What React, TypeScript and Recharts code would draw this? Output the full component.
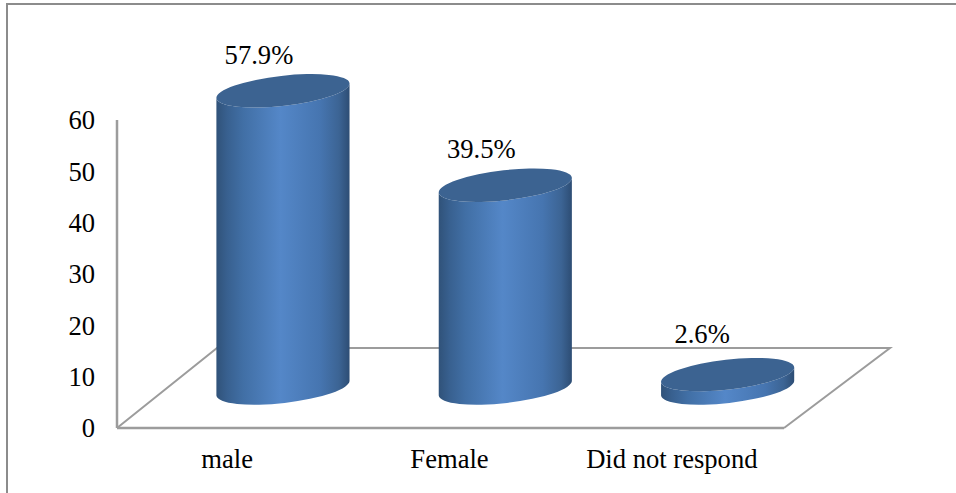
import { BarChart, Bar, XAxis, YAxis, LabelList, Customized } from "recharts"

const categories = ["male", "Female", "Did not respond"]
const percentValues = [57.9, 39.5, 2.6]
const yTicks = [0, 10, 20, 30, 40, 50, 60]

const data = categories.map((name, i) => ({ name, value: percentValues[i] }))

const WIDTH = 956
const HEIGHT = 493
const PLOT = { top: 120, right: 172, bottom: 65, left: 117 }
const FONT = "'Liberation Serif', 'Times New Roman', serif"
const FONT_SIZE = 26.6
const GREY = "#9c9c9c"

// fake 3D: bars sit halfway back on the floor
const BAR_DX = 55
const BAR_DY = -40
const FLOOR_DX = 106
const FLOOR_DY = -80
const TILT = -6.5
const RY = 15

function Floor() {
  const left = PLOT.left
  const right = WIDTH - PLOT.right
  const base = HEIGHT - PLOT.bottom
  const points = [
    [left, base],
    [left + 100, base + FLOOR_DY],
    [right + FLOOR_DX, base + FLOOR_DY],
    [right, base],
  ]
  return (
    <polyline
      points={points.map((p) => p.join(",")).join(" ")}
      fill="none"
      stroke={GREY}
      strokeWidth={2}
    />
  )
}

function Cylinder(props: any) {
  const { x, y, width, height } = props
  const rx = width / 2 + 0.5
  const cx = x + width / 2 + BAR_DX
  const top = y + BAR_DY
  const bottom = y + height + BAR_DY
  const rad = (TILT * Math.PI) / 180
  // extreme left/right points of the tilted ellipse
  const ex = rx * Math.cos(rad)
  const ey = rx * Math.sin(rad)
  const side = [
    `M${cx - ex},${top - ey}`,
    `L${cx - ex},${bottom - ey}`,
    `A${rx},${RY} ${TILT} 0 0 ${cx + ex},${bottom + ey}`,
    `L${cx + ex},${top + ey}`,
    `A${rx},${RY} ${TILT} 0 1 ${cx - ex},${top - ey}`,
    "Z",
  ].join(" ")
  return (
    <g>
      <path d={side} fill="url(#cylSide)" />
      <ellipse
        cx={cx}
        cy={top}
        rx={rx}
        ry={RY}
        fill="#3c6391"
        transform={`rotate(${TILT} ${cx} ${top})`}
      />
    </g>
  )
}

function ValueLabel(props: any) {
  const { x, y, width, value, index } = props
  const lift = index === 2 ? 41 : 36
  const nudge = index === 2 ? 29.5 : 31
  return (
    <text
      x={x + width / 2 + nudge}
      y={y + BAR_DY - lift}
      textAnchor="middle"
      dominantBaseline="central"
      fontFamily={FONT}
      fontSize={FONT_SIZE}
      fill="#000"
    >
      {value}%
    </text>
  )
}

export default function App() {
  return (
    <div style={{ position: "absolute", left: 0, top: 0, width: WIDTH, height: HEIGHT, background: "#fff", overflow: "hidden" }}>
      <div
        style={{
          position: "absolute",
          left: 6,
          top: 3,
          width: WIDTH,
          height: HEIGHT,
          borderLeft: "2px solid #8c8c8c",
          borderTop: "2px solid #8c8c8c",
        }}
      />
      <div style={{ position: "absolute", left: 0, top: 0 }}>
        <BarChart
          width={WIDTH}
          height={HEIGHT}
          data={data}
          margin={{ top: PLOT.top, right: PLOT.right, bottom: 0, left: 0 }}
          barCategoryGap="20%"
        >
          <defs>
            <linearGradient id="cylSide" x1="0" y1="0" x2="1" y2="0">
              <stop offset="0%" stopColor="#305279" />
              <stop offset="8%" stopColor="#38608f" />
              <stop offset="20%" stopColor="#416fa5" />
              <stop offset="48%" stopColor="#5487c8" />
              <stop offset="78%" stopColor="#4675b0" />
              <stop offset="92%" stopColor="#3c6494" />
              <stop offset="100%" stopColor="#2d4d74" />
            </linearGradient>
          </defs>
          <Customized component={Floor} />
          <XAxis
            dataKey="name"
            interval={0}
            height={PLOT.bottom}
            axisLine={{ stroke: GREY, strokeWidth: 2.5 }}
            tickLine={false}
            tickSize={0}
            tickMargin={21}
            tick={{ fontFamily: FONT, fontSize: FONT_SIZE, fill: "#000", dx: -1 }}
          />
          <YAxis
            domain={[0, 60]}
            ticks={yTicks}
            width={PLOT.left}
            axisLine={{ stroke: GREY, strokeWidth: 2.5 }}
            tickLine={false}
            tickSize={0}
            tickMargin={22}
            tick={{ fontFamily: FONT, fontSize: FONT_SIZE, fill: "#000" }}
          />
          <Bar dataKey="value" shape={<Cylinder />} isAnimationActive={false}>
            <LabelList dataKey="value" content={<ValueLabel />} />
          </Bar>
        </BarChart>
      </div>
    </div>
  )
}
